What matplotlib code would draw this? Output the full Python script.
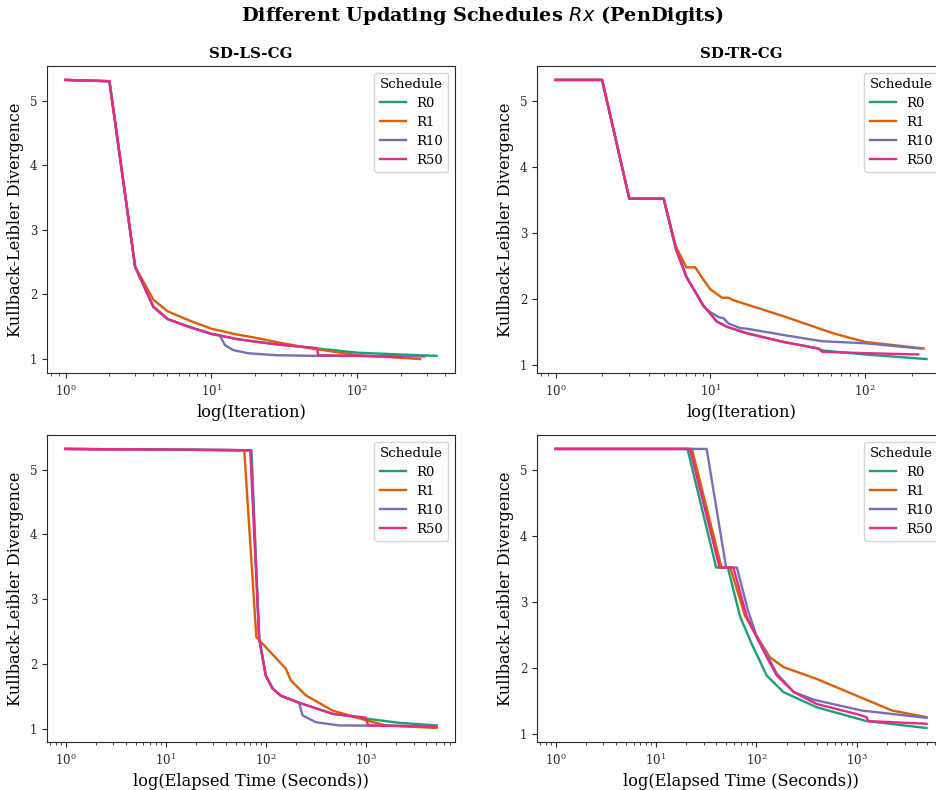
import matplotlib
matplotlib.use("Agg")
import matplotlib.pyplot as plt

plt.rcParams['font.family'] = ['DejaVu Serif']
plt.rcParams['axes.edgecolor'] = '.15'
plt.rcParams['xtick.color'] = '.15'
plt.rcParams['ytick.color'] = '.15'
plt.rcParams['mathtext.fontset'] = 'dejavusans'

schedules = ["R0", "R1", "R10", "R50"]
colors = {"R0": "#1b9e77", "R1": "#d95f02", "R10": "#7570b3", "R50": "#e7298a"}

# SD-LS-CG, x = iteration
ls_iter_x = {
    "R0": [1, 2, 3, 4, 5, 7, 10, 15, 20, 30, 50, 100, 200, 350],
    "R1": [1, 2, 3, 4, 5, 7, 10, 15, 20, 30, 50, 100, 200, 270],
    "R10": [1, 2, 3, 4, 5, 7, 10, 11.4, 12.4, 14.1, 17.9, 27.9, 50, 100, 290],
    "R50": [1, 2, 3, 4, 5, 7, 10, 15, 20, 30, 53, 54, 100, 200],
}
ls_iter_y = {
    "R0": [5.32, 5.30, 2.43, 1.81, 1.62, 1.50, 1.39, 1.31, 1.27, 1.22, 1.17, 1.10, 1.07, 1.05],
    "R1": [5.32, 5.30, 2.43, 1.92, 1.74, 1.60, 1.47, 1.38, 1.33, 1.25, 1.16, 1.06, 1.02, 1.00],
    "R10": [5.32, 5.30, 2.43, 1.81, 1.62, 1.50, 1.39, 1.37, 1.215, 1.14, 1.09, 1.06, 1.05, 1.05, 1.04],
    "R50": [5.32, 5.30, 2.43, 1.81, 1.62, 1.50, 1.39, 1.31, 1.27, 1.22, 1.17, 1.06, 1.05, 1.03],
}

# SD-TR-CG, x = iteration
tr_iter_x = {
    "R0": [1, 2, 3, 5, 6, 7, 9.05, 10, 11, 12.8, 17.3, 29.7, 50, 53, 100, 250],
    "R1": [1, 2, 3, 5, 6, 7, 8, 9.05, 10, 11.9, 13.1, 14.2, 29.7, 62.5, 100, 240],
    "R10": [1, 2, 3, 5, 6, 7, 9.05, 10, 11.5, 12.2, 13.1, 15.6, 17.3, 29.7, 53, 100, 229],
    "R50": [1, 2, 3, 5, 6, 7, 9.05, 10, 11, 12.8, 17.3, 29.7, 50, 53, 100, 221],
}
tr_iter_y = {
    "R0": [5.32, 5.32, 3.52, 3.52, 2.76, 2.34, 1.895, 1.78, 1.66, 1.58, 1.48, 1.35, 1.25, 1.22, 1.16, 1.09],
    "R1": [5.32, 5.32, 3.52, 3.52, 2.795, 2.48, 2.48, 2.29, 2.15, 2.02, 2.02, 1.98, 1.74, 1.48, 1.35, 1.25],
    "R10": [5.32, 5.32, 3.52, 3.52, 2.76, 2.34, 1.895, 1.80, 1.72, 1.71, 1.63, 1.56, 1.55, 1.455, 1.36, 1.33, 1.25],
    "R50": [5.32, 5.32, 3.52, 3.52, 2.76, 2.34, 1.895, 1.78, 1.66, 1.58, 1.48, 1.35, 1.25, 1.20, 1.18, 1.16],
}

# SD-LS-CG, x = elapsed seconds
ls_time_x = {
    "R0": [1, 72, 86, 100, 117, 141, 215, 464, 950, 2150, 5080],
    "R1": [1, 61, 80.5, 158, 178, 251, 464, 1000, 1585, 5080],
    "R10": [1, 71, 86, 100, 117, 141, 215, 233, 316, 541, 5000],
    "R50": [1, 70, 86, 100, 117, 141, 215, 464, 1000, 1050, 5080],
}
ls_time_y = {
    "R0": [5.32, 5.30, 2.39, 1.82, 1.62, 1.51, 1.40, 1.23, 1.16, 1.09, 1.05],
    "R1": [5.32, 5.30, 2.415, 1.93, 1.745, 1.515, 1.28, 1.13, 1.05, 1.01],
    "R10": [5.32, 5.30, 2.39, 1.82, 1.62, 1.51, 1.40, 1.205, 1.10, 1.05, 1.04],
    "R50": [5.32, 5.30, 2.39, 1.82, 1.62, 1.51, 1.40, 1.23, 1.17, 1.05, 1.03],
}

# SD-TR-CG, x = elapsed seconds
tr_time_x = {
    "R0": [1, 20.6, 39.8, 52, 69, 90, 127, 186, 398, 1250, 4950],
    "R1": [1, 22.8, 45, 55, 77, 100, 136, 186, 398, 980, 2250, 4950],
    "R10": [1, 32, 50, 64, 82.5, 100, 160, 236, 372, 1120, 4950],
    "R50": [1, 21.8, 43, 59, 80.5, 100, 127, 160, 236, 398, 980, 1250, 1300, 4950],
}
tr_time_y = {
    "R0": [5.32, 5.32, 3.52, 3.52, 2.77, 2.36, 1.88, 1.63, 1.40, 1.19, 1.085],
    "R1": [5.32, 5.32, 3.52, 3.52, 2.79, 2.49, 2.16, 2.01, 1.83, 1.58, 1.35, 1.25],
    "R10": [5.32, 5.32, 3.52, 3.52, 2.87, 2.49, 1.91, 1.63, 1.515, 1.35, 1.24],
    "R50": [5.32, 5.32, 3.52, 3.52, 2.77, 2.47, 2.16, 1.88, 1.63, 1.45, 1.30, 1.25, 1.19, 1.15],
}

panels = [
    ("SD-LS-CG", "log(Iteration)", ls_iter_x, ls_iter_y),
    ("SD-TR-CG", "log(Iteration)", tr_iter_x, tr_iter_y),
    (None, "log(Elapsed Time (Seconds))", ls_time_x, ls_time_y),
    (None, "log(Elapsed Time (Seconds))", tr_time_x, tr_time_y),
]

fig = plt.figure(figsize=(9.36, 7.9), dpi=100)
# right column runs past the figure edge, as in the original
positions = [
    [0.0502, 0.5278, 0.436, 0.3887],
    [0.5737, 0.5278, 0.436, 0.3887],
    [0.0502, 0.0608, 0.436, 0.3886],
    [0.5737, 0.0608, 0.436, 0.3886],
]

for pos, (title, xlabel, xs, ys) in zip(positions, panels):
    ax = fig.add_axes(pos)
    for s in schedules:
        ax.plot(xs[s], ys[s], color=colors[s], lw=1.7, label=s)
    ax.set_xscale("log")
    ax.set_yticks([1, 2, 3, 4, 5])
    ax.tick_params(labelsize=8.5)
    ax.set_xlabel(xlabel, fontsize=11.7)
    ax.set_ylabel("Kullback-Leibler Divergence", fontsize=11.7)
    if title:
        ax.set_title(title, fontsize=10.8, fontweight="bold")
    ax.legend(title="Schedule", loc="upper right", fontsize=9.5, title_fontsize=9.7,
              labelspacing=0.45)

fig.suptitle("Different Updating Schedules $Rx$ (PenDigits)", fontsize=13.9,
             fontweight="bold", x=0.515, y=0.995)

fig.savefig("out.png", dpi=100)
